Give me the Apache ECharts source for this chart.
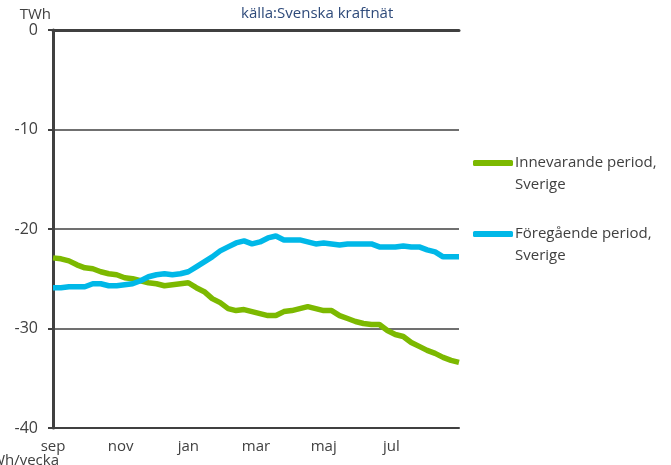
<!DOCTYPE html>
<html>
<head>
<meta charset="utf-8">
<style>
  html, body { margin: 0; padding: 0; background: #fff; }
  #main { width: 671px; height: 465px; }
</style>
<script src="https://cdn.jsdelivr.net/npm/echarts@6/dist/echarts.min.js"></script>
</head>
<body>
<div id="main"></div>
<script>
// veckor 0..51 från september
var weeks = []
for (var w = 0; w < 52; w++) weeks.push(w)

var monthLabels = ['sep', 'nov', 'jan', 'mar', 'maj', 'jul', '']

var innevarande = [
  -22.9, -23.0, -23.2, -23.6, -23.9, -24.0, -24.3, -24.5, -24.6, -24.9,
  -25.0, -25.2, -25.4, -25.5, -25.7, -25.6, -25.5, -25.4, -25.9, -26.3,
  -27.0, -27.4, -28.0, -28.2, -28.1, -28.3, -28.5, -28.7, -28.7, -28.3,
  -28.2, -28.0, -27.8, -28.0, -28.2, -28.2, -28.7, -29.0, -29.3, -29.5,
  -29.6, -29.6, -30.2, -30.6, -30.8, -31.4, -31.8, -32.2, -32.5, -32.9,
  -33.2, -33.4
]

var foregaende = [
  -25.9, -25.9, -25.8, -25.8, -25.8, -25.5, -25.5, -25.7, -25.7, -25.6,
  -25.5, -25.2, -24.8, -24.6, -24.5, -24.6, -24.5, -24.3, -23.8, -23.3,
  -22.8, -22.2, -21.8, -21.4, -21.2, -21.5, -21.3, -20.9, -20.7, -21.1,
  -21.1, -21.1, -21.3, -21.5, -21.4, -21.5, -21.6, -21.5, -21.5, -21.5,
  -21.5, -21.8, -21.8, -21.8, -21.7, -21.8, -21.8, -22.1, -22.3, -22.8,
  -22.8, -22.8
]

function pairs (vals) {
  return vals.map(function (v, i) { return [weeks[i], v] })
}

var textColor = '#404040'
var font = 'Open Sans'

var myChart = echarts.init(document.getElementById('main'))
myChart.setOption({
  animation: false,
  textStyle: { fontFamily: font },
  grid: { left: 53, top: 30, right: 212, bottom: 37 },
  title: {
    text: 'källa:Svenska kraftnät',
    left: 236,
    top: 1,
    textStyle: { color: '#2e4a7a', fontSize: 15, fontWeight: 'normal', fontFamily: font }
  },
  legend: {
    orient: 'vertical',
    left: 473,
    top: 130,
    padding: 0,
    itemWidth: 40,
    itemHeight: 6,
    itemGap: 5,
    icon: 'roundRect',
    // tom rad överst så att ikonen hamnar vid första textraden
    formatter: function (name) { return ' \n' + name.replace(', ', ',\n') },
    textStyle: {
      color: textColor,
      fontSize: 15,
      lineHeight: 22,
      padding: [0, 0, 0, -3],
      fontFamily: font
    },
    data: ['Innevarande period, Sverige', 'Föregående period, Sverige']
  },
  graphic: [{
    type: 'text',
    right: 612,
    top: 453,
    style: { text: 'TWh/vecka', fill: textColor, font: '15px "Open Sans"' }
  }],
  xAxis: [{
    type: 'value',
    min: 0,
    max: 51,
    interval: 8.5,
    axisLine: { show: true, onZero: false, lineStyle: { color: textColor, width: 2 } },
    axisTick: { show: false },
    splitLine: { show: false },
    axisLabel: {
      color: textColor,
      fontSize: 15,
      margin: 11,
      showMaxLabel: false,
      formatter: function (v) { return monthLabels[Math.round(v / 8.5)] || '' }
    }
  }, {
    type: 'value',
    position: 'top',
    min: 0,
    max: 51,
    axisLine: { show: true, lineStyle: { color: textColor, width: 3 } },
    axisTick: { show: false },
    axisLabel: { show: false },
    splitLine: { show: false }
  }],
  yAxis: {
    type: 'value',
    name: 'TWh',
    nameLocation: 'end',
    nameGap: 5,
    nameTextStyle: { color: textColor, fontSize: 15, align: 'right', padding: [0, 2, 0, 0] },
    min: -40,
    max: 0,
    interval: 10,
    axisLine: { show: true, lineStyle: { color: textColor, width: 3 } },
    axisTick: { show: true, length: 5, lineStyle: { color: textColor, width: 2 } },
    axisLabel: { color: textColor, fontSize: 16, margin: 15 },
    splitLine: { show: true, lineStyle: { color: textColor, width: 1.5 } }
  },
  series: [{
    name: 'Innevarande period, Sverige',
    type: 'line',
    showSymbol: false,
    smooth: false,
    itemStyle: { color: '#7cb900' },
    lineStyle: { color: '#7cb900', width: 5.5 },
    data: pairs(innevarande)
  }, {
    name: 'Föregående period, Sverige',
    type: 'line',
    showSymbol: false,
    smooth: false,
    itemStyle: { color: '#00b8e8' },
    lineStyle: { color: '#00b8e8', width: 5.5 },
    data: pairs(foregaende)
  }]
})
</script>
</body>
</html>
